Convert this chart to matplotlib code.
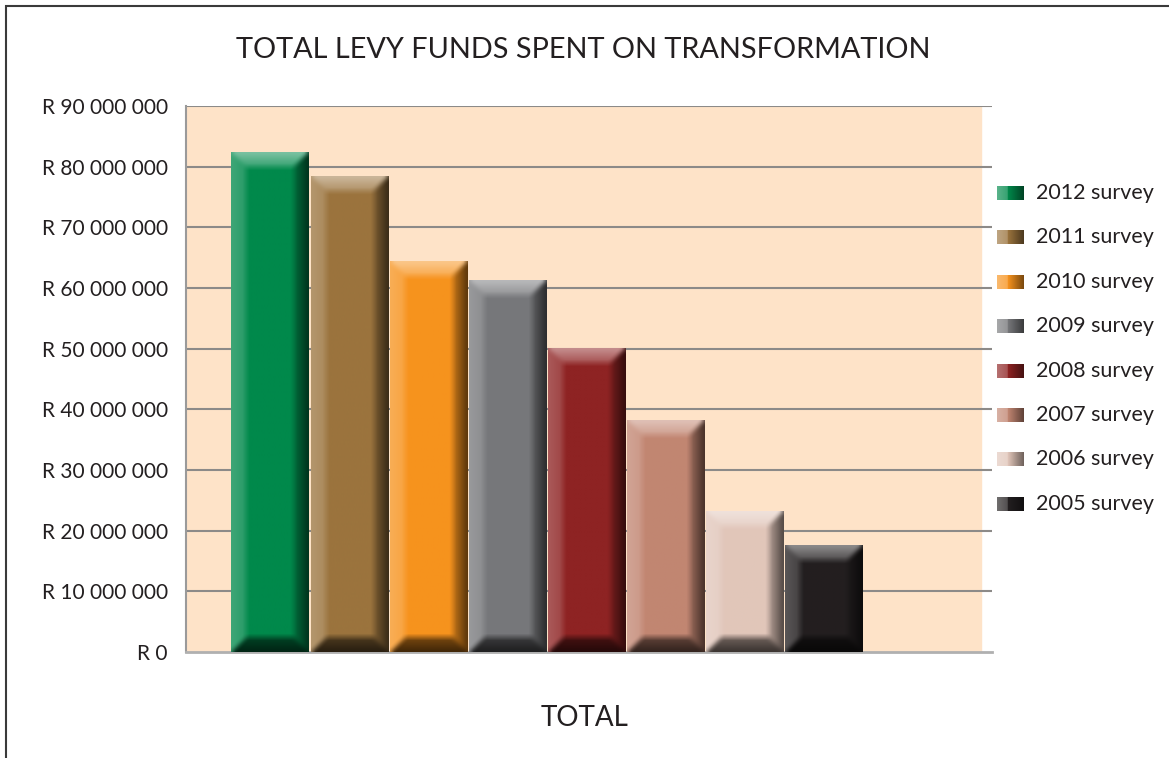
import numpy as np
import matplotlib
matplotlib.use("Agg")
import matplotlib.pyplot as plt
from matplotlib.colors import to_rgb
from matplotlib.patches import Rectangle

# data
surveys = ["2012 survey", "2011 survey", "2010 survey", "2009 survey",
           "2008 survey", "2007 survey", "2006 survey", "2005 survey"]
values = [82.4e6, 78.3e6, 64.3e6, 61.2e6, 50.0e6, 38.1e6, 23.2e6, 17.5e6]
colors = ["#00894B", "#9B743E", "#F7931E", "#77787B",
          "#8E2323", "#C28672", "#E1C6BA", "#231F20"]
yticks = [0, 10e6, 20e6, 30e6, 40e6, 50e6, 60e6, 70e6, 80e6, 90e6]
ytick_labels = ["R 0", "R 10 000 000", "R 20 000 000", "R 30 000 000",
                "R 40 000 000", "R 50 000 000", "R 60 000 000",
                "R 70 000 000", "R 80 000 000", "R 90 000 000"]

W, H = 1169, 758
plt.rcParams["font.family"] = ["Lato", "DejaVu Sans"]
fig = plt.figure(figsize=(W / 100, H / 100), dpi=100)

# outer frame (only top/left visible in the original)
fig.add_artist(Rectangle((6 / W, -0.1), 1.2, (H - 6) / H + 0.1, transform=fig.transFigure,
                         fill=False, edgecolor="#3a3a3a", linewidth=1.5))

ax = fig.add_axes([186 / W, (H - 652) / H, (992 - 186) / W, (652 - 106) / H])
ax.set_facecolor("none")

xlo, xhi, peach_hi = -1.061, 9.123, 8.984
ax.set_xlim(xlo, xhi)
ax.set_ylim(0, 90e6)
ax.axvspan(xlo, peach_hi, color="#FEE3C8", zorder=0)

for t in yticks[1:]:
    ax.axhline(t, color="#8c8a88", linewidth=1.5, zorder=1)

ax.set_yticks(yticks)
ax.set_yticklabels(ytick_labels, fontsize=15, color="#231F20")
ax.tick_params(axis="y", length=0, pad=13)
ax.set_xticks([])
for s in ["top", "right"]:
    ax.spines[s].set_visible(False)
ax.spines["left"].set_color("#9a9a9a")
ax.spines["left"].set_linewidth(1.5)
ax.spines["bottom"].set_color("#b0b0b0")
ax.spines["bottom"].set_linewidth(2)


def blur(a, k):
    # simple separable box blur with edge padding
    ker = np.ones(k) / k
    p = k // 2
    a = np.pad(a, ((p, p), (p, p), (0, 0)), mode="edge")
    a = np.apply_along_axis(lambda r: np.convolve(r, ker, mode="valid"), 0, a)
    a = np.apply_along_axis(lambda r: np.convolve(r, ker, mode="valid"), 1, a)
    return a


def bevel(base, wpx, hpx):
    # fake 3D bevel like the office chart
    base = np.array(to_rgb(base))
    hpx = max(int(hpx), 2)
    wpx = max(int(wpx), 2)
    yy, xx = np.mgrid[0:hpx, 0:wpx] + 0.5
    dl, dr, dt, db = xx, wpx - xx, yy, hpx - yy
    b = 15.0
    img = np.tile(base, (hpx, wpx, 1))
    d = np.stack([dl, dr, dt, db])
    which = np.argmin(d, axis=0)
    dmin = np.min(d, axis=0)
    inside = dmin < b
    f = np.clip(1 - dmin / b, 0, 1)
    white = np.ones(3)
    black = np.zeros(3)
    out = img.copy()
    m = inside & (which == 0)
    a = (0.15 + 0.1 * f)[m][:, None]
    out[m] = img[m] * (1 - a) + white * a
    m = inside & (which == 1)
    a = (0.2 + 0.45 * f)[m][:, None]
    out[m] = img[m] * (1 - a) + black * a
    m = inside & (which == 2)
    a = (0.2 + 0.3 * f)[m][:, None]
    out[m] = img[m] * (1 - a) + white * a
    m = inside & (which == 3)
    a = (0.5 + 0.25 * f)[m][:, None]
    out[m] = img[m] * (1 - a) + black * a
    return np.clip(blur(out, 7), 0, 1)


xs = np.arange(len(values))
bw = 0.975
bars = ax.bar(xs, values, width=bw, color=colors, zorder=2, linewidth=0)
px_per_x = (992 - 186) / (xhi - xlo)
px_per_y = (652 - 106) / 90e6
for bar, c in zip(bars, colors):
    x0, v = bar.get_x(), bar.get_height()
    im = bevel(c, bar.get_width() * px_per_x, v * px_per_y)
    ax.imshow(im, extent=(x0, x0 + bar.get_width(), 0, v), aspect="auto",
              interpolation="bilinear", zorder=3)
ax.set_xlim(xlo, xhi)
ax.set_ylim(0, 90e6)

fig.text(583 / W, 1 - 50 / H, "TOTAL LEVY FUNDS SPENT ON TRANSFORMATION",
         ha="center", va="center", fontsize=20.8, color="#231F20")
fig.text(585 / W, 1 - 718 / H, "TOTAL", ha="center", va="center",
         fontsize=20, color="#231F20")

# legend drawn by hand with gradient swatches
for i, (lab, c) in enumerate(zip(surveys, colors)):
    yc = 193 + i * 44.4
    sax = fig.add_axes([997 / W, 1 - (yc + 7) / H, 27 / W, 14 / H])
    base = np.array(to_rgb(c))
    g = np.linspace(0, 1, 30)
    row = np.array([base * (1 - 0.35 * (1 - t)) + np.ones(3) * 0.35 * (1 - t) if t < 0.4
                    else base * (1 - 0.5 * (t - 0.4) / 0.6) for t in g])
    sax.imshow(row[None, :, :], aspect="auto", interpolation="bilinear")
    sax.axis("off")
    fig.text(1036 / W, 1 - yc / H, lab, ha="left", va="center",
             fontsize=15.5, color="#231F20")

fig.savefig("out.png", dpi=100)
